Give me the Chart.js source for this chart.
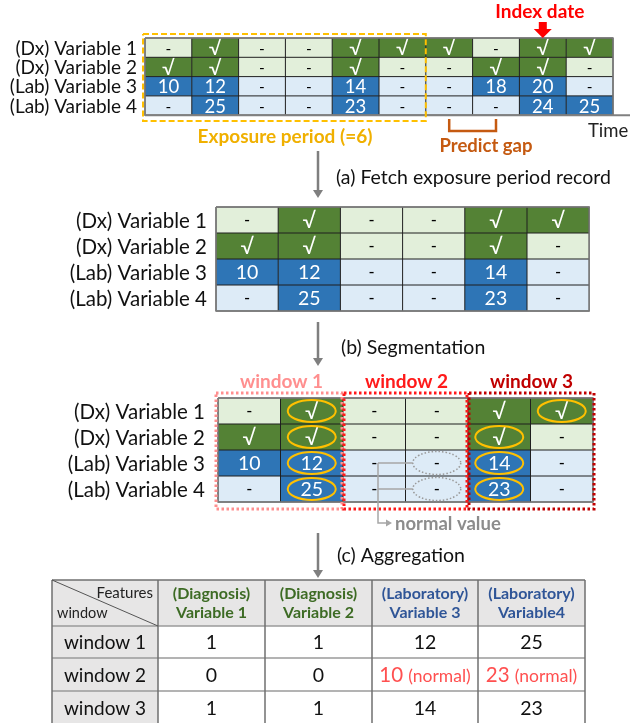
<!DOCTYPE html>
<html>
<head>
<meta charset="utf-8">
<script src="https://cdn.jsdelivr.net/npm/chart.js@4.4.0/dist/chart.umd.min.js"></script>
<style>
html, body { margin: 0; padding: 0; background: #fff; overflow: hidden; }
</style>
</head>
<body>
<canvas id="diagram" width="630" height="723"></canvas>
<script>
// ---- data ----
const variables = ['(Dx) Variable 1', '(Dx) Variable 2', '(Lab) Variable 3', '(Lab) Variable 4'];
const varKinds = ['dx', 'dx', 'lab', 'lab'];
const dxVar1 = ['-', '√', '-', '-', '√', '√', '√', '-', '√', '√'];
const dxVar2 = ['√', '√', '-', '-', '√', '-', '-', '√', '√', '-'];
const labVar3 = [10, 12, null, null, 14, null, null, 18, 20, null];
const labVar4 = [null, 25, null, null, 23, null, null, null, 24, 25];
const exposureDays = 6;
const gapDays = [6, 7];
const indexDay = 8;
const windowNames = ['window 1', 'window 2', 'window 3'];
const windowSize = 2;

const aggHeaders = [['(Diagnosis)', 'Variable 1'], ['(Diagnosis)', 'Variable 2'],
                    ['(Laboratory)', 'Variable 3'], ['(Laboratory)', 'Variable4']];
const aggWindow1 = [1, 1, 12, 25];
const aggWindow2 = [0, 0, 10, 23];
const aggWindow3 = [1, 1, 14, 23];
const aggNormal2 = [false, false, true, true];

const series = [dxVar1, dxVar2, labVar3, labVar4];

// ---- style ----
const FONT = 'Lato, "Open Sans", sans-serif';
const DARK_GREEN = '#548235', LIGHT_GREEN = '#e2efda';
const DARK_BLUE = '#2e75b6', LIGHT_BLUE = '#ddebf7';

function isFilled(v) {
    return v !== null && v !== '-';
}

function cellColors(kind, v) {
    if (kind === 'dx') return isFilled(v) ? [DARK_GREEN, '#fff'] : [LIGHT_GREEN, '#000'];
    return isFilled(v) ? [DARK_BLUE, '#fff'] : [LIGHT_BLUE, '#000'];
}

const diagramPlugin = {
    id: 'diagram',
    afterDraw(chart) {
        const ctx = chart.ctx;
        const X = v => chart.scales.x.getPixelForValue(v);
        const Y = v => chart.scales.y.getPixelForValue(v);

        function text(str, x, y, size, color, align, weight) {
            ctx.save();
            ctx.font = (weight || 'normal') + ' ' + size + 'px ' + FONT;
            ctx.fillStyle = color;
            ctx.textAlign = align || 'center';
            ctx.textBaseline = 'middle';
            ctx.fillText(str, X(x), Y(y));
            ctx.restore();
        }

        function line(pts, color, width, dash) {
            ctx.save();
            ctx.strokeStyle = color;
            ctx.lineWidth = width;
            ctx.setLineDash(dash || []);
            ctx.beginPath();
            pts.forEach((p, i) => i ? ctx.lineTo(X(p[0]), Y(p[1])) : ctx.moveTo(X(p[0]), Y(p[1])));
            ctx.stroke();
            ctx.restore();
        }

        function rect(x0, y0, x1, y1, color, width, dash) {
            line([[x0, y0], [x1, y0], [x1, y1], [x0, y1], [x0, y0]], color, width, dash);
        }

        function grayArrow(x, y0, y1) {
            line([[x, y0], [x, y1 - 6]], '#7f7f7f', 2.5);
            ctx.save();
            ctx.fillStyle = '#7f7f7f';
            ctx.beginPath();
            ctx.moveTo(X(x - 5), Y(y1 - 8));
            ctx.lineTo(X(x + 5), Y(y1 - 8));
            ctx.lineTo(X(x), Y(y1));
            ctx.closePath();
            ctx.fill();
            ctx.restore();
        }

        // draws a grid of records for the given day columns
        function recordGrid(g, days) {
            days.forEach((d, c) => {
                series.forEach((row, r) => {
                    const v = row[d];
                    const [bg, fg] = cellColors(varKinds[r], v);
                    const x0 = g.x + c * g.cw, y0 = g.y + r * g.rh;
                    ctx.fillStyle = bg;
                    ctx.fillRect(X(x0), Y(y0), X(x0 + g.cw) - X(x0), Y(y0 + g.rh) - Y(y0));
                    const label = isFilled(v) ? String(v) : '-';
                    let size = g.fs;
                    if (label === '-') size = g.fs - 3;
                    if (label === '√') size = g.fs + 2;
                    text(label, x0 + g.cw / 2, y0 + g.rh / 2 + 1, size, fg);
                });
            });
            for (let c = 0; c <= days.length; c++) {
                line([[g.x + c * g.cw, g.y], [g.x + c * g.cw, g.y + 4 * g.rh]], '#1f1f1f', 1);
            }
            for (let r = 0; r <= 4; r++) {
                line([[g.x, g.y + r * g.rh], [g.x + days.length * g.cw, g.y + r * g.rh]], '#1f1f1f', 1);
            }
            rect(g.x, g.y, g.x + days.length * g.cw, g.y + 4 * g.rh, '#7f7f7f', 1.5);
            variables.forEach((name, r) => {
                text(name, g.lx, g.y + (r + 0.5) * g.rh + 1, g.lfs, '#111', 'right');
            });
        }

        const allDays = dxVar1.map((_, i) => i);
        const exposure = allDays.slice(0, exposureDays);

        // ---- timeline ----
        const top = { x: 145, y: 38, cw: 46.8, rh: 19.3, fs: 18.5, lx: 137, lfs: 19 };
        recordGrid(top, allDays);
        line([[top.x, top.y + 4 * top.rh], [630, top.y + 4 * top.rh]], '#808080', 2);
        text('Time', 588, 131, 18.5, '#222', 'left');

        // exposure box
        rect(top.x - 2, 34, top.x + exposureDays * top.cw, 121, '#ffc000', 2, [6, 3]);
        text('Exposure period (=6)', 285, 137, 19, '#f0b000', 'center', 'bold');

        // predict gap bracket
        const gx0 = top.x + (gapDays[0] + 0.5) * top.cw, gx1 = top.x + (gapDays[1] + 0.5) * top.cw;
        line([[gx0, 119], [gx0, 131], [gx1, 131], [gx1, 119]], '#c55a11', 2.5);
        text('Predict gap', 486, 146, 18.5, '#c55a11', 'center', 'bold');

        // index date
        const ix = top.x + (indexDay + 0.5) * top.cw;
        text('Index date', ix - 3, 12, 19, '#ff0000', 'center', 'bold');
        ctx.save();
        ctx.fillStyle = '#ff0000';
        ctx.beginPath();
        ctx.moveTo(X(ix - 4), Y(22));
        ctx.lineTo(X(ix + 4), Y(22));
        ctx.lineTo(X(ix + 4), Y(29));
        ctx.lineTo(X(ix + 9), Y(29));
        ctx.lineTo(X(ix), Y(38));
        ctx.lineTo(X(ix - 9), Y(29));
        ctx.lineTo(X(ix - 4), Y(29));
        ctx.closePath();
        ctx.fill();
        ctx.restore();

        // ---- (a) fetch ----
        grayArrow(318, 151, 198);
        text('(a) Fetch exposure period record', 336, 178, 19.5, '#111', 'left');
        const fetch = { x: 216, y: 207, cw: 62.2, rh: 26, fs: 19.5, lx: 207, lfs: 20.5 };
        recordGrid(fetch, exposure);

        // ---- (b) segmentation ----
        grayArrow(318, 322, 366);
        text('(b) Segmentation', 341, 348, 19.5, '#111', 'left');
        const seg = { x: 218, y: 398, cw: 62.5, rh: 26, fs: 19.5, lx: 205, lfs: 20.5 };
        recordGrid(seg, exposure);

        const winColors = ['#ff8f8f', '#ff1a1a', '#c00000'];
        windowNames.forEach((w, i) => {
            const x0 = seg.x + i * windowSize * seg.cw;
            const x1 = x0 + windowSize * seg.cw;
            rect(x0 + (i === 0 ? -2 : 1), 393, x1 + (i === 2 ? 1 : -1), 509, winColors[i], 3, [2.5, 2.5]);
            text(w, (x0 + x1) / 2 + 1, 382, 19, winColors[i], 'center', 'bold');

            // latest record within each window
            series.forEach((row, r) => {
                let last = -1;
                for (let c = 0; c < windowSize; c++) {
                    if (isFilled(row[i * windowSize + c])) last = c;
                }
                const cy = seg.y + (r + 0.5) * seg.rh;
                if (last >= 0) {
                    const cx = x0 + (last + 0.5) * seg.cw;
                    ctx.save();
                    ctx.strokeStyle = '#ffc000';
                    ctx.lineWidth = 2;
                    ctx.beginPath();
                    ctx.ellipse(X(cx), Y(cy), 24, 11, 0, 0, Math.PI * 2);
                    ctx.stroke();
                    ctx.restore();
                } else if (varKinds[r] === 'lab') {
                    const cx = x0 + (windowSize - 0.5) * seg.cw;
                    ctx.save();
                    ctx.strokeStyle = '#9a9a9a';
                    ctx.lineWidth = 1.5;
                    ctx.setLineDash([1.5, 2]);
                    ctx.beginPath();
                    ctx.ellipse(X(cx), Y(cy), 24, 11.5, 0, 0, Math.PI * 2);
                    ctx.stroke();
                    ctx.restore();
                    line([[cx - 24, cy], [378, cy]], '#a6a6a6', 1.5);
                }
            });
        });
        line([[378, 463], [378, 523], [388, 523]], '#a6a6a6', 1.5);
        ctx.save();
        ctx.fillStyle = '#a6a6a6';
        ctx.beginPath();
        ctx.moveTo(X(386), Y(519.5));
        ctx.lineTo(X(392), Y(523));
        ctx.lineTo(X(386), Y(526.5));
        ctx.closePath();
        ctx.fill();
        ctx.restore();
        text('normal value', 395, 524, 18.5, '#8c8c8c', 'left', 'bold');

        // ---- (c) aggregation ----
        grayArrow(318, 533, 578);
        text('(c) Aggregation', 337, 556, 19.5, '#111', 'left');

        const colX = [52, 158, 265, 372, 478, 585];
        const rowY = [580, 626, 658, 691, 724];
        ctx.fillStyle = '#e7e6e6';
        ctx.fillRect(X(colX[0]), Y(rowY[0]), X(colX[5]) - X(colX[0]), Y(rowY[1]) - Y(rowY[0]));
        ctx.fillRect(X(colX[0]), Y(rowY[0]), X(colX[1]) - X(colX[0]), Y(rowY[4]) - Y(rowY[0]));
        for (let r = 1; r < rowY.length - 1; r++) {
            line([[colX[0], rowY[r]], [colX[5], rowY[r]]], '#9a9a9a', 1.5);
        }
        for (let c = 0; c < colX.length; c++) {
            line([[colX[c], rowY[0]], [colX[c], rowY[4]]], '#6f6f6f', 1.5);
        }
        line([[colX[0], rowY[0]], [colX[5], rowY[0]]], '#6f6f6f', 1.5);
        line([[colX[0], rowY[0]], [colX[1], rowY[1]]], '#555', 1);
        text('Features', colX[1] - 5, 593, 15, '#222', 'right');
        text('window', colX[0] + 5, 613, 14.5, '#222', 'left');

        aggHeaders.forEach((h, c) => {
            const color = c < 2 ? '#3d6b24' : '#2f5597';
            const cx = (colX[c + 1] + colX[c + 2]) / 2;
            text(h[0], cx, 594, 16, color, 'center', 'bold');
            text(h[1], cx, 613, 16, color, 'center', 'bold');
        });

        const aggRows = [aggWindow1, aggWindow2, aggWindow3];
        aggRows.forEach((vals, r) => {
            const cy = (rowY[r + 1] + rowY[r + 2]) / 2 + 1;
            text(windowNames[r], (colX[0] + colX[1]) / 2, cy, 19, '#111');
            vals.forEach((v, c) => {
                const cx = (colX[c + 1] + colX[c + 2]) / 2;
                if (r === 1 && aggNormal2[c]) {
                    ctx.save();
                    ctx.font = '20.5px ' + FONT;
                    const w1 = ctx.measureText(String(v) + ' ').width;
                    ctx.font = '17.5px ' + FONT;
                    const w2 = ctx.measureText('(normal)').width;
                    ctx.restore();
                    const left = cx - (w1 + w2) / 2;
                    text(String(v), left, cy, 20.5, '#ff5050', 'left');
                    text('(normal)', left + w1, cy + 1, 17.5, '#ff5050', 'left');
                } else {
                    text(String(v), cx, cy, 19.5, '#111');
                }
            });
        });
    }
};

new Chart(document.getElementById('diagram'), {
    type: 'scatter',
    data: { datasets: [] },
    options: {
        responsive: false,
        animation: false,
        layout: { padding: 0 },
        scales: {
            x: { type: 'linear', min: 0, max: 630, display: false },
            y: { type: 'linear', min: 0, max: 723, reverse: true, display: false }
        },
        plugins: {
            legend: { display: false },
            tooltip: { enabled: false }
        }
    },
    plugins: [diagramPlugin]
});
</script>
</body>
</html>
